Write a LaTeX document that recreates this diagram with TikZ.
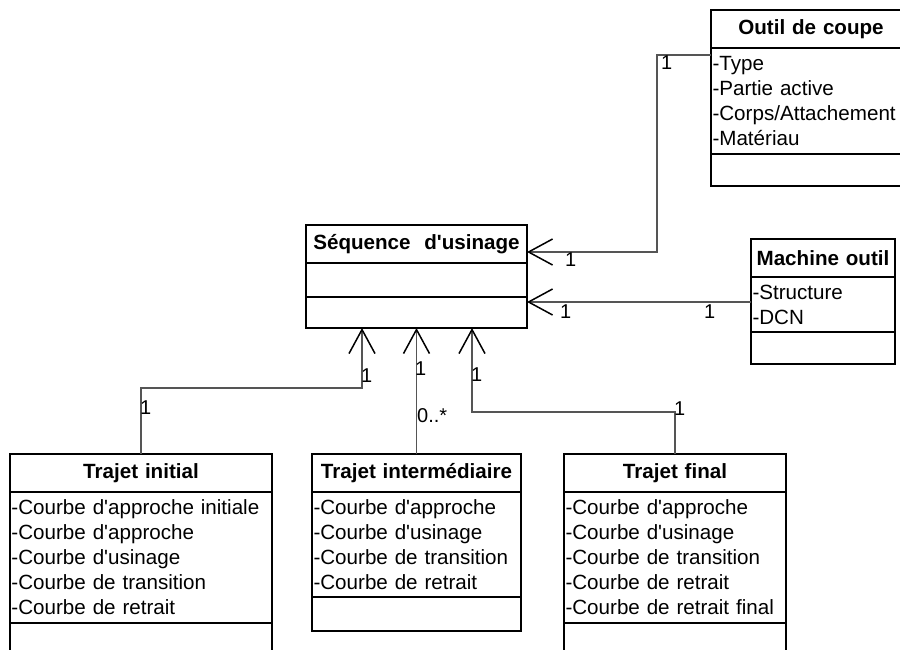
\documentclass[tikz,border=0pt]{standalone}
\usepackage{fontspec}
\setmainfont{Liberation Sans}[Ligatures=TeXOff]
\usetikzlibrary{arrows.meta}
\usetikzlibrary{positioning, math}
\definecolor{mygray}{RGB}{85, 85, 85}

\tikzset{
  box/.style={draw, line width=1.6pt, outer sep=0pt, inner xsep=1.5pt, inner ysep=0pt,
    font=\fontsize{20.6pt}{25pt}\selectfont},
  head/.style={box, align=center, minimum height=38pt,
    font=\fontsize{20.6pt}{25pt}\selectfont\bfseries},
  attr/.style={box, align=left},
  assoc/.style={draw=mygray, line width=1.1pt,
    -{Straight Barb[length=24pt, width=26pt, line width=1.5pt, color=black]}},
  mult/.style={anchor=base west, inner sep=0pt, font=\fontsize{20pt}{24pt}\selectfont}
}

\begin{document}
\begin{tikzpicture}[x=1pt, y=1pt]
\tikzmath{
\W=900;
\H=650;
}
\useasboundingbox (0,0) rectangle (\W,-\H);
\clip (0,0) rectangle (\W,-\H);

%%%%%%%%%% centre class
\node[head, text width=218pt, anchor=north west] (seqH) at (306,-225) {S\'equence\ \ d'usinage};
\node[attr, text width=218pt, minimum height=34pt, below=0pt of seqH] (seqA) {};
\node[attr, text width=218pt, minimum height=31pt, below=0pt of seqA] (seqO) {};

%%%%%%%%%% top right: cutting tool
\node[head, text width=197pt, anchor=north west] (outH) at (711,-10) {Outil de coupe};
\node[attr, text width=197pt, minimum height=106pt, below=0pt of outH] (outA)
  {-Type\\-Partie active\\-Corps/Attachement\\-Mat\'eriau};
\node[attr, text width=197pt, minimum height=32pt, below=0pt of outA] (outO) {};

%%%%%%%%%% right: machine
\node[head, text width=141pt, anchor=north west] (machH) at (751,-239) {Machine outil};
\node[attr, text width=141pt, minimum height=55pt, below=0pt of machH] (machA)
  {-Structure\\-DCN};
\node[attr, text width=141pt, minimum height=32pt, below=0pt of machA] (machO) {};

%%%%%%%%%% bottom row: paths
\node[head, text width=259pt, anchor=north west] (tiniH) at (10,-454) {Trajet initial};
\node[attr, text width=259pt, minimum height=131pt, below=0pt of tiniH] (tiniA)
  {-Courbe d'approche initiale\\-Courbe d'approche\\-Courbe d'usinage\\-Courbe de transition\\-Courbe de retrait};
\node[attr, text width=259pt, minimum height=40pt, below=0pt of tiniA] (tiniO) {};

\node[head, text width=206pt, anchor=north west] (tintH) at (312,-454) {Trajet interm\'ediaire};
\node[attr, text width=206pt, minimum height=105pt, below=0pt of tintH] (tintA)
  {-Courbe d'approche\\-Courbe d'usinage\\-Courbe de transition\\-Courbe de retrait};
\node[attr, text width=206pt, minimum height=34pt, below=0pt of tintA] (tintO) {};

\node[head, text width=219pt, anchor=north west] (tfinH) at (564,-454) {Trajet final};
\node[attr, text width=219pt, minimum height=131pt, below=0pt of tfinH] (tfinA)
  {-Courbe d'approche\\-Courbe d'usinage\\-Courbe de transition\\-Courbe de retrait\\-Courbe de retrait final};
\node[attr, text width=219pt, minimum height=40pt, below=0pt of tfinA] (tfinO) {};

%%%%%%%%%% associations
\draw[assoc] ([yshift=-7pt]outA.north west) -- ++(-54,0) |- ([yshift=11pt]seqH.south east);
\coordinate (mcon) at ([yshift=-25pt]machA.north west);
\draw[assoc] (mcon) -- (mcon -| seqO.east);
\draw[assoc] (tiniH.north) -- ++(0,66) -| ([xshift=56pt]seqO.south west);
\draw[assoc] (tintH.north) -- (tintH.north |- seqO.south);
\draw[assoc] (tfinH.north) -- ++(0,42) -| ([xshift=166pt]seqO.south west);

% multiplicities
\node[mult] (mOut) at (661,-70) {1};
\node[mult] (mSeq1) at (565,-266) {1};
\node[mult] (mSeq2) at (560,-318) {1};
\node[mult] (mMach) at (704,-318) {1};
\node[mult] (mIni1) at (361,-382) {1};
\node[mult] (mInt1) at (415,-375) {1};
\node[mult] (mFin1) at (471,-381) {1};
\node[mult] (mInt2) at (417,-422) {0..*};
\node[mult] (mIni2) at (140,-414) {1};
\node[mult] (mFin2) at (674,-415) {1};
\end{tikzpicture}
\end{document}
